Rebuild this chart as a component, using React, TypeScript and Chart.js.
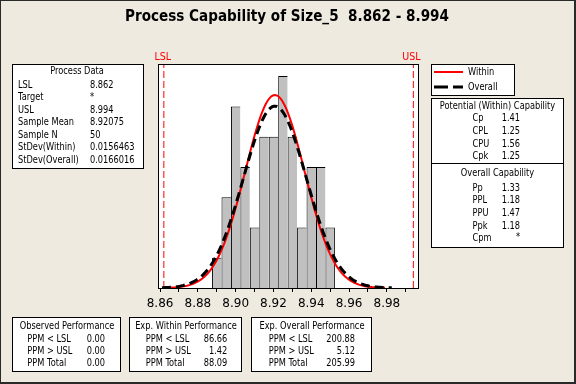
import React, { useEffect, useRef } from "react";
import { Chart, registerables } from "chart.js";
Chart.register(...registerables);

// ---- data ----
const binCenters = [8.89, 8.895, 8.9, 8.905, 8.91, 8.915, 8.92, 8.925, 8.93, 8.935, 8.94, 8.945, 8.95];
const binCounts = [1, 3, 6, 4, 2, 5, 5, 7, 5, 2, 4, 4, 2];
const binWidth = 0.005;
const sampleN = 50;
const sampleMean = 8.92075;
const stdevWithin = 0.0156463;
const stdevOverall = 0.0166016;
const LSL = 8.862;
const USL = 8.994;
const withinRange = [8.8653, 8.979];
const overallRange = [8.861, 8.9826];
const xTickLabels = ["8.86", "8.88", "8.90", "8.92", "8.94", "8.96", "8.98"];
const xMin = 8.8589;
const xMax = 8.997;
const yMax = 29.6;

const titleText = "Process Capability of Size_5  8.862 - 8.994";
const processDataLabels = ["LSL", "Target", "USL", "Sample Mean", "Sample N", "StDev(Within)", "StDev(Overall)"];
const processDataValues = ["8.862", "*", "8.994", "8.92075", "50", "0.0156463", "0.0166016"];
const withinCapLabels = ["Cp", "CPL", "CPU", "Cpk"];
const withinCapValues = ["1.41", "1.25", "1.56", "1.25"];
const overallCapLabels = ["Pp", "PPL", "PPU", "Ppk", "Cpm"];
const overallCapValues = ["1.33", "1.18", "1.47", "1.18", "*"];
const perfLabels = ["PPM < LSL", "PPM > USL", "PPM Total"];
const observedPPM = ["0.00", "0.00", "0.00"];
const withinPPM = ["86.66", "1.42", "88.09"];
const overallPPM = ["200.88", "5.12", "205.99"];

const BG = "#EEEAE0";
const FONT = '"DejaVu Sans", Tahoma, sans-serif';
const SX = 0.75;

function normalCurve(mu: number, sd: number, from: number, to: number, n = 140) {
  const pts: { x: number; y: number }[] = [];
  for (let i = 0; i <= n; i++) {
    const x = from + ((to - from) * i) / n;
    const z = (x - mu) / sd;
    pts.push({ x, y: Math.exp(-0.5 * z * z) / (sd * Math.sqrt(2 * Math.PI)) });
  }
  return pts;
}

function txt(ctx: CanvasRenderingContext2D, s: string, x: number, y: number, align: CanvasTextAlign = "left", opts: { size?: number; color?: string; sx?: number; bold?: boolean } = {}) {
  ctx.save();
  ctx.font = `${opts.bold ? "bold " : ""}${opts.size ?? 11}px ${FONT}`;
  ctx.fillStyle = opts.color ?? "#000";
  ctx.textBaseline = "middle";
  ctx.textAlign = align;
  ctx.translate(x, y);
  ctx.scale(opts.sx ?? SX, 1);
  ctx.fillText(s, 0, 0);
  ctx.restore();
}

function box(ctx: CanvasRenderingContext2D, x: number, y: number, w: number, h: number) {
  ctx.save();
  ctx.fillStyle = "#fff";
  ctx.fillRect(x, y, w, h);
  ctx.strokeStyle = "#000";
  ctx.lineWidth = 1;
  ctx.strokeRect(x + 0.5, y + 0.5, w, h);
  ctx.restore();
}

const decorPlugin = {
  id: "decor",
  beforeDraw(chart: any) {
    const ctx = chart.ctx as CanvasRenderingContext2D;
    const a = chart.chartArea;
    ctx.save();
    ctx.fillStyle = BG;
    ctx.fillRect(0, 0, chart.width, chart.height);
    ctx.fillStyle = "#fff";
    ctx.fillRect(a.left, a.top, a.right - a.left, a.bottom - a.top);
    ctx.restore();
  },
  afterDraw(chart: any) {
    const ctx = chart.ctx as CanvasRenderingContext2D;
    const a = chart.chartArea;
    const xs = chart.scales.x;
    ctx.save();
    // outer frame
    ctx.strokeStyle = "#2a2a2a";
    ctx.lineWidth = 1;
    ctx.strokeRect(0.5, 0.5, chart.width - 1, chart.height - 1);
    ctx.beginPath();
    ctx.moveTo(chart.width - 1.5, 0);
    ctx.lineTo(chart.width - 1.5, chart.height);
    ctx.moveTo(0, chart.height - 1.5);
    ctx.lineTo(chart.width, chart.height - 1.5);
    ctx.stroke();
    // plot box
    ctx.strokeStyle = "#000";
    ctx.strokeRect(a.left + 0.5, a.top + 0.5, a.right - a.left - 1, a.bottom - a.top);
    ctx.restore();

    // title
    ctx.save();
    ctx.font = `bold 15px ${FONT}`;
    const tw = ctx.measureText(titleText).width;
    ctx.restore();
    txt(ctx, titleText, 287, 17.5, "center", { size: 15, bold: true, sx: 324 / tw });

    // spec labels
    txt(ctx, "LSL", xs.getPixelForValue(LSL) - 1, 57.5, "center", { size: 10, color: "#FF0000", sx: 0.95 });
    txt(ctx, "USL", xs.getPixelForValue(USL) - 2, 57.5, "center", { size: 10, color: "#FF0000", sx: 0.95 });

    // process data
    box(ctx, 12, 64, 131, 104);
    txt(ctx, "Process Data", 77, 71, "center");
    processDataLabels.forEach((l, i) => {
      const y = 85 + i * 12.5;
      txt(ctx, l, 18, y);
      txt(ctx, processDataValues[i], 90, y);
    });

    // legend
    box(ctx, 431, 64, 83, 31);
    ctx.save();
    ctx.strokeStyle = "#FF0000";
    ctx.lineWidth = 2;
    ctx.beginPath();
    ctx.moveTo(434, 72);
    ctx.lineTo(463, 72);
    ctx.stroke();
    ctx.strokeStyle = "#000";
    ctx.lineWidth = 3;
    ctx.setLineDash([14, 5]);
    ctx.beginPath();
    ctx.moveTo(434, 87);
    ctx.lineTo(463, 87);
    ctx.stroke();
    ctx.restore();
    txt(ctx, "Within", 468, 72);
    txt(ctx, "Overall", 468, 87);

    // capability box
    box(ctx, 431, 98, 132, 149);
    ctx.save();
    ctx.strokeStyle = "#000";
    ctx.beginPath();
    ctx.moveTo(431, 163.5);
    ctx.lineTo(564, 163.5);
    ctx.stroke();
    ctx.restore();
    txt(ctx, "Potential (Within) Capability", 497.5, 106, "center");
    withinCapLabels.forEach((l, i) => {
      const y = 118.5 + i * 12.7;
      txt(ctx, l, 472.5, y);
      txt(ctx, withinCapValues[i], 520, y, "right");
    });
    txt(ctx, "Overall Capability", 497.5, 173, "center");
    overallCapLabels.forEach((l, i) => {
      const y = 187.7 + i * 12.65;
      txt(ctx, l, 472.5, y);
      txt(ctx, overallCapValues[i], 520, y - (overallCapValues[i] === "*" ? 1 : 0), "right");
    });

    // performance boxes
    const perf = [
      { x: 12, w: 108, title: "Observed Performance", lx: 27.3, vx: 105, vals: observedPPM },
      { x: 129, w: 112, title: "Exp. Within Performance", lx: 145.7, vx: 227.3, vals: withinPPM },
      { x: 251, w: 120, title: "Exp. Overall Performance", lx: 268.7, vx: 355, vals: overallPPM },
    ];
    perf.forEach((p) => {
      box(ctx, p.x, 317, p.w, 54);
      txt(ctx, p.title, p.x + p.w / 2 + 1, 325.7, "center");
      perfLabels.forEach((l, i) => {
        const y = 339.5 + i * 12;
        txt(ctx, l, p.lx, y);
        txt(ctx, p.vals[i], p.vx, y, "right");
      });
    });
  },
};

export default function App() {
  const ref = useRef<HTMLCanvasElement | null>(null);
  useEffect(() => {
    if (!ref.current) return;
    const lastBar = binCenters.length - 1;
    const chart = new Chart(ref.current, {
      type: "bar",
      data: {
        datasets: [
          {
            type: "line",
            data: normalCurve(sampleMean, stdevOverall, overallRange[0], overallRange[1]),
            borderColor: "#000",
            borderWidth: 3,
            borderDash: [9, 5],
            pointRadius: 0,
            tension: 0,
            order: 1,
          } as any,
          {
            type: "line",
            data: normalCurve(sampleMean, stdevWithin, withinRange[0], withinRange[1]),
            borderColor: "#FF0000",
            borderWidth: 2,
            pointRadius: 0,
            tension: 0,
            order: 2,
          } as any,
          {
            type: "line",
            data: [{ x: LSL, y: 0 }, { x: LSL, y: yMax }],
            borderColor: "#FF0000",
            borderWidth: 1,
            borderDash: [7, 3],
            pointRadius: 0,
            order: 3,
          } as any,
          {
            type: "line",
            data: [{ x: USL, y: 0 }, { x: USL, y: yMax }],
            borderColor: "#FF0000",
            borderWidth: 1,
            borderDash: [7, 3],
            pointRadius: 0,
            order: 3,
          } as any,
          {
            type: "bar",
            data: binCenters.map((c, i) => ({ x: c, y: binCounts[i] / (sampleN * binWidth) })),
            backgroundColor: "#C0C0C0",
            borderColor: "#000",
            borderWidth: (c: any) => ({ top: 1, left: 1, right: c.dataIndex === lastBar ? 1 : 0, bottom: 0 }),
            borderSkipped: false,
            barPercentage: 1,
            categoryPercentage: 1,
            inflateAmount: 0,
            order: 4,
          } as any,
        ],
      },
      options: {
        animation: false,
        responsive: false,
        devicePixelRatio: 1,
        events: [],
        layout: { padding: { left: 158, right: 157, top: 64, bottom: 66 } },
        plugins: { legend: { display: false }, tooltip: { enabled: false } },
        scales: {
          x: {
            type: "linear",
            min: xMin,
            max: xMax,
            offset: false,
            grid: { display: true, drawOnChartArea: false, drawTicks: true, tickLength: 4, color: "#000", offset: false },
            border: { display: false },
            ticks: {
              stepSize: 0.01,
              includeBounds: false,
              autoSkip: false,
              maxRotation: 0,
              padding: 5,
              color: "#000",
              font: { family: "DejaVu Sans", size: 12 },
              callback: (v: any) => {
                const s = Number(v).toFixed(2);
                return xTickLabels.includes(s) ? s : "";
              },
            },
            afterFit: (s: any) => {
              s.height = 30;
            },
          },
          y: { type: "linear", display: false, min: 0, max: yMax },
        },
      } as any,
      plugins: [decorPlugin],
    });
    return () => chart.destroy();
  }, []);
  return (
    <div style={{ position: "absolute", left: 0, top: 0, width: 576, height: 384 }}>
      <canvas ref={ref} width={576} height={384} style={{ display: "block", width: 576, height: 384 }} />
    </div>
  );
}
